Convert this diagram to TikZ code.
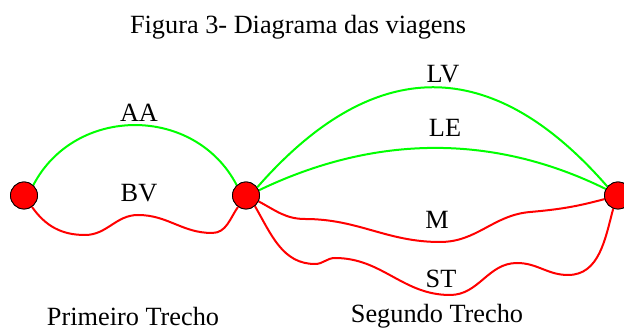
\documentclass[tikz,border=0pt]{standalone}
\usepackage{fontspec}
\setmainfont{Liberation Serif}
\begin{document}
\begin{tikzpicture}[x=1pt,y=1pt,
  city/.style={circle,draw=black,line width=0.8pt,fill=red,minimum size=27pt,inner sep=0pt},
  lbl/.style={inner sep=0pt,font=\fontsize{26.3}{30}\selectfont},
  txt/.style={inner sep=0pt,anchor=base,font=\fontsize{26.3}{30}\selectfont},
  go/.style={draw=green,line width=2pt},
  back/.style={draw=red,line width=2pt}]
\useasboundingbox (0,0) rectangle (624,331);
\node[txt] (title) at (298,297) {Figura 3- Diagrama das viagens};
\node[txt] (t1) at (133,5) {Primeiro Trecho};
\node[txt] (t2) at (437,8) {Segundo Trecho};
\node[city] (A) at (24,135.5) {};
\node[city] (B) at (246,135.5) {};
\node[city] (C) at (618,135.5) {};
% first leg
\path[go] (A.48) .. controls (75,226) and (195,226) .. (B.132);
\path[back] (A.-55) to[out=-55,in=180] (85,96) to[out=0,in=180] (138,116)
   to[out=0,in=180] (212,98) to[out=0,in=-125] (B.-125);
% second leg
\path[go] (B.36) .. controls (374,277) and (492,277) .. (C.140);
\path[go] (B.22) .. controls (376,197) and (494,197) .. (C.152);
\path[back] (B.-25) to[out=-28,in=180] (305,112) to[out=0,in=180] (440,89)
   to[out=0,in=185] (530,119) to[out=5,in=-165] (C.-165);
\path[back] (B.-50) to[out=-60,in=180] (315,67) to[out=0,in=180] (335,73)
   to[out=0,in=180] (450,36) to[out=0,in=180] (517,68) to[out=0,in=180] (568,56)
   to[out=0,in=-105] (C.-110);
\node[city] at (A) {};
\node[city] at (B) {};
\node[city] at (C) {};
% labels
\node[lbl] (aa) at (139,218) {AA};
\node[lbl] (bv) at (139,138) {BV};
\node[lbl] (lv) at (443,257) {LV};
\node[lbl] (le) at (445,203) {LE};
\node[lbl] (m) at (437,111) {M};
\node[lbl] (st) at (441,52) {ST};
\end{tikzpicture}
\end{document}
